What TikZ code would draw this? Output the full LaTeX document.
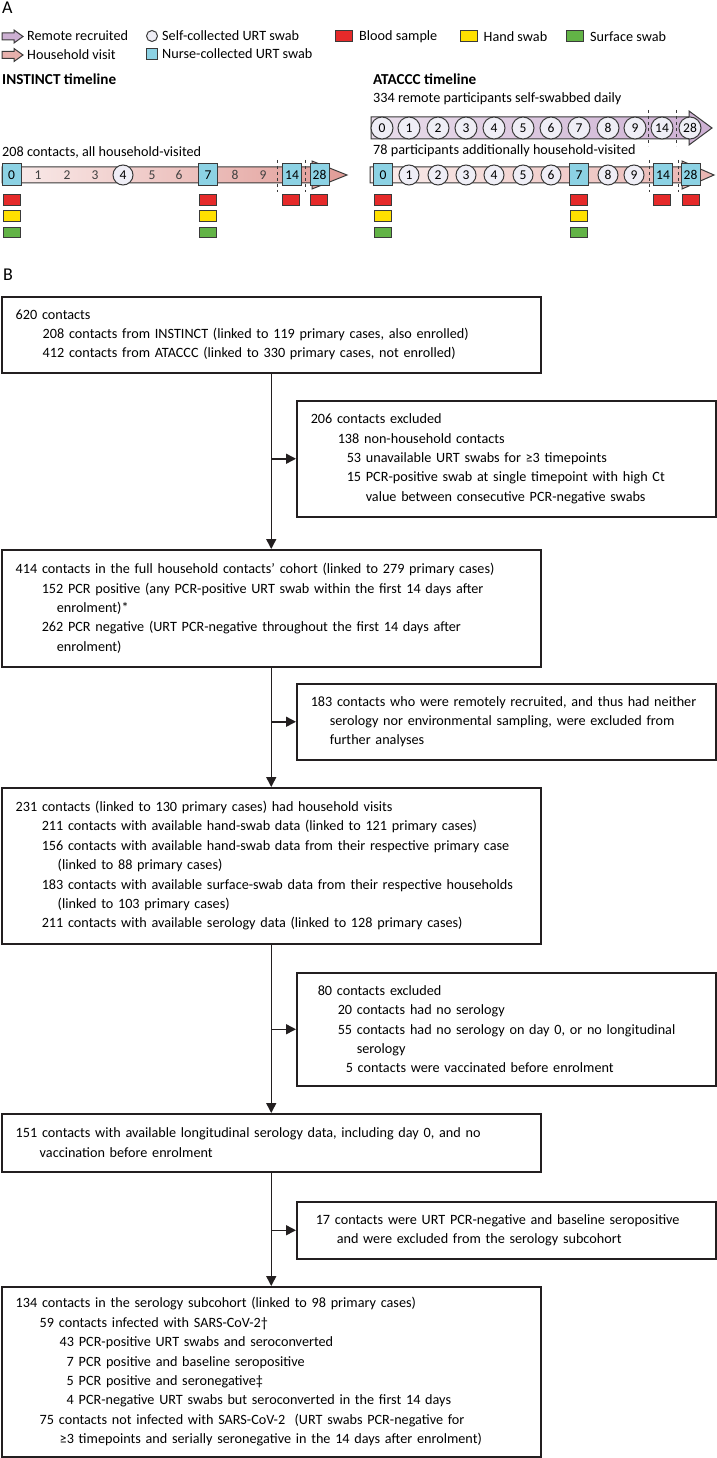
\documentclass[tikz,border=0pt]{standalone}
\usepackage{fontspec}
\setmainfont{Carlito}
\usetikzlibrary{arrows.meta,positioning}

\definecolor{boxline}{HTML}{231F20}
\definecolor{iconline}{HTML}{3A3A3A}
\definecolor{nurseblue}{HTML}{8CD2E4}
\definecolor{selfgrey}{HTML}{EFEEF6}
\definecolor{bloodred}{HTML}{E52A2A}
\definecolor{handyellow}{HTML}{FFE000}
\definecolor{surfgreen}{HTML}{62B346}
\definecolor{remotelo}{HTML}{E9DDEB}
\definecolor{remotehi}{HTML}{CDB0D3}
\definecolor{visitlo}{HTML}{FAEDEC}
\definecolor{visithi}{HTML}{E19C97}

\begin{document}
\begin{tikzpicture}[x=1pt,y=-1pt]

% Definitions
\tikzstyle{txt} = [font=\fontsize{14.2}{19.4}\selectfont]
\tikzstyle{num} = [font=\fontsize{13.5}{16}\selectfont]
\tikzstyle{lgd} = [txt, anchor=west, inner sep=0pt]
\tikzstyle{title} = [lgd, font=\fontsize{15.2}{19.4}\selectfont\bfseries]
\tikzstyle{panel} = [lgd, font=\fontsize{18}{20}\selectfont]
\tikzstyle{box} = [rectangle, txt, draw=boxline, line width=1.5pt, align=left, anchor=north west, inner xsep=0pt, inner ysep=0pt]
\tikzstyle{mainbox} = [box, text width=539pt]
\tikzstyle{exclbox} = [box, text width=419pt]
\tikzstyle{nurse} = [rectangle, num, draw=iconline, fill=nurseblue, line width=1pt, minimum width=19pt, minimum height=22pt, inner sep=0pt]
\tikzstyle{self} = [circle, num, draw=iconline, fill=selfgrey, line width=1pt, minimum size=20pt, inner sep=0pt]
\tikzstyle{day} = [num, inner sep=0pt, text=black!75]
\tikzstyle{sample} = [rectangle, draw=iconline, line width=1pt, minimum width=17pt, minimum height=10.5pt, inner sep=0pt]
\tikzstyle{dayline} = [dashed, line width=0.8pt, iconline]
\tikzstyle{tl} = [draw=iconline, line width=1pt]
\tikzstyle{arrow} = [line width=1.5pt, boxline, ->, >={Triangle[length=10pt,width=10pt]}]

\useasboundingbox (0,0) rectangle (716,1458);

% Panel A: legend
\node (A) [panel] at (2,8) {A};
\path[tl, fill=remotehi] (2,33) -- (14,33) -- (14,30) -- (23,36.5) -- (14,43) -- (14,40) -- (2,40) -- cycle;
\node (remote) [lgd] at (27,36) {Remote recruited};
\path[tl, fill=visithi!80] (2,51.5) -- (14,51.5) -- (14,48.5) -- (23,55) -- (14,61.5) -- (14,58.5) -- (2,58.5) -- cycle;
\node (visit) [lgd] at (27,55) {Household visit};
\node (selficon) [self, minimum size=11pt] at (152,36) {};
\node (selflgd) [lgd, right=4pt of selficon] {Self-collected URT swab};
\node (nurseicon) [nurse, minimum width=11pt, minimum height=11pt] at (152,54) {};
\node (nurselgd) [lgd, right=4pt of nurseicon] {Nurse-collected URT swab};
\node (bloodicon) [sample, fill=bloodred, minimum height=11pt] at (344,36.5) {};
\node (bloodlgd) [lgd, right=6pt of bloodicon] {Blood sample};
\node (handicon) [sample, fill=handyellow, minimum height=11pt] at (468.5,36.5) {};
\node (handlgd) [lgd, right=6pt of handicon] {Hand swab};
\node (surficon) [sample, fill=surfgreen, minimum height=11pt] at (575,36.5) {};
\node (surflgd) [lgd, right=6pt of surficon] {Surface swab};

% INSTINCT timeline
\node (instinct) [title] at (2,79) {INSTINCT timeline};
\node (instincttxt) [lgd] at (2,152) {208 contacts, all household-visited};
\path[tl, left color=visitlo, right color=visithi] (2,167) -- (312,167) -- (312,161) -- (347,175) -- (312,189) -- (312,183) -- (2,183) -- cycle;
\draw[dayline] (277,160) -- (277,192);
\draw[dayline] (305,160) -- (305,192);
\foreach \d/\x in {1/38,2/67,3/95,5/152,6/179,8/235,9/263}
  \node (i\d) [day] at (\x,175) {\d};
\node (i4) [self] at (123,175) {4};
\foreach \d/\x in {0/11.5,7/208,14/292,28/319.5}
  \node (i\d) [nurse] at (\x,175) {\d};
\foreach \d/\x in {0/11.5,7/208} {
  \node (ih\d) [sample, fill=handyellow] at (\x,216) {};
  \node (is\d) [sample, fill=surfgreen] at (\x,232.5) {};
}
\foreach \d/\x in {0/11.5,7/208,14/290.5,28/319}
  \node (ib\d) [sample, fill=bloodred] at (\x,200) {};

% ATACCC timeline
\node (ataccc) [title] at (373,79) {ATACCC timeline};
\node (remotetxt) [lgd] at (373,99) {334 remote participants self-swabbed daily};
\path[tl, left color=remotelo, right color=remotehi] (371,117) -- (689,117) -- (689,111) -- (712,128) -- (689,145) -- (689,139) -- (371,139) -- cycle;
\draw[dayline] (648,110) -- (648,146);
\draw[dayline] (676,110) -- (676,146);
\foreach \d/\x in {0/382,1/409,2/438,3/466,4/494,5/523,6/551,7/579,8/608,9/635,14/662,28/690}
  \node (r\d) [self, minimum size=22pt] at (\x,128) {\d};

\node (visittxt) [lgd] at (373,151) {78 participants additionally household-visited};
\path[tl, left color=visitlo, right color=visithi!75] (370,167) -- (682,167) -- (682,161) -- (714,175) -- (682,189) -- (682,183) -- (370,183) -- cycle;
\draw[dayline] (649,160) -- (649,192);
\draw[dayline] (678,160) -- (678,192);
\foreach \d/\x in {1/409,2/438,3/466,4/494,5/523,6/551,8/608,9/634}
  \node (a\d) [self] at (\x,175) {\d};
\foreach \d/\x in {0/383,7/579,14/663,28/690.5}
  \node (a\d) [nurse] at (\x,175) {\d};
\foreach \d/\x in {0/383,7/579} {
  \node (ah\d) [sample, fill=handyellow] at (\x,216) {};
  \node (as\d) [sample, fill=surfgreen] at (\x,232.5) {};
}
\foreach \d/\x in {0/383,7/579,14/662,28/690.5}
  \node (ab\d) [sample, fill=bloodred] at (\x,200) {};

% Panel B: flow chart
\node (B) [panel] at (3,275) {B};

\node (enrol) [mainbox, minimum height=76pt] at (1,296) {%
\hspace*{14pt}620 contacts\\
\hspace*{41pt}208 contacts from INSTINCT (linked to 119 primary cases, also enrolled)\\
\hspace*{41pt}412 contacts from ATACCC (linked to 330 primary cases, not enrolled)};

\node (excl1) [exclbox, minimum height=116pt] at (296,400) {%
\hspace*{14pt}206 contacts excluded\\
\hspace*{41pt}138 non-household contacts\\
\hspace*{50pt}53 unavailable URT swabs for ≥3 timepoints\\
\hspace*{50pt}15 PCR-positive swab at single timepoint with high Ct\\
\hspace*{69pt}value between consecutive PCR-negative swabs};

\node (cohort) [mainbox, minimum height=117pt] at (1,549) {%
\hspace*{14pt}414 contacts in the full household contacts’ cohort (linked to 279 primary cases)\\
\hspace*{40pt}152 PCR positive (any PCR-positive URT swab within the first 14 days after\\
\hspace*{55pt}enrolment)*\\
\hspace*{40pt}262 PCR negative (URT PCR-negative throughout the first 14 days after\\
\hspace*{55pt}enrolment)};

\node (excl2) [exclbox, minimum height=76pt] at (296,683) {%
\hspace*{14pt}183 contacts who were remotely recruited, and thus had neither\\
\hspace*{33pt}serology nor environmental sampling, were excluded from\\
\hspace*{33pt}further analyses};

\node (visits) [mainbox, minimum height=156pt] at (1,787) {%
\hspace*{14pt}231 contacts (linked to 130 primary cases) had household visits\\
\hspace*{40pt}211 contacts with available hand-swab data (linked to 121 primary cases)\\
\hspace*{40pt}156 contacts with available hand-swab data from their respective primary case\\
\hspace*{56pt}(linked to 88 primary cases)\\
\hspace*{40pt}183 contacts with available surface-swab data from their respective households\\
\hspace*{56pt}(linked to 103 primary cases)\\
\hspace*{40pt}211 contacts with available serology data (linked to 128 primary cases)};

\node (excl3) [exclbox, minimum height=113pt] at (296,972) {%
\hspace*{21pt}80 contacts excluded\\
\hspace*{41pt}20 contacts had no serology\\
\hspace*{41pt}55 contacts had no serology on day 0, or no longitudinal\\
\hspace*{60pt}serology\\
\hspace*{49pt}5 contacts were vaccinated before enrolment};

\node (longit) [mainbox, minimum height=58pt] at (1,1113) {%
\hspace*{14pt}151 contacts with available longitudinal serology data, including day 0, and no\\
\hspace*{38pt}vaccination before enrolment};

\node (excl4) [exclbox, minimum height=57pt] at (296,1201) {%
\hspace*{19pt}17 contacts were URT PCR-negative and baseline seropositive\\
\hspace*{40pt}and were excluded from the serology subcohort};

\node (subcohort) [mainbox, minimum height=170pt] at (1,1286) {%
\hspace*{14pt}134 contacts in the serology subcohort (linked to 98 primary cases)\\
\hspace*{38pt}59 contacts infected with SARS-CoV-2†\\
\hspace*{58pt}43 PCR-positive URT swabs and seroconverted\\
\hspace*{65pt}7 PCR positive and baseline seropositive\\
\hspace*{65pt}5 PCR positive and seronegative‡\\
\hspace*{65pt}4 PCR-negative URT swabs but seroconverted in the first 14 days\\
\hspace*{38pt}75 contacts not infected with SARS-CoV-2\ \ (URT swabs PCR-negative for\\
\hspace*{58pt}≥3 timepoints and serially seronegative in the 14 days after enrolment)};

\draw [arrow] (enrol.south) -- (cohort.north);
\draw [arrow] (enrol.south |- excl1.west) -- (excl1.west);
\draw [arrow] (cohort.south) -- (visits.north);
\draw [arrow] (cohort.south |- excl2.west) -- (excl2.west);
\draw [arrow] (visits.south) -- (longit.north);
\draw [arrow] (visits.south |- excl3.west) -- (excl3.west);
\draw [arrow] (longit.south) -- (subcohort.north);
\draw [arrow] (longit.south |- excl4.west) -- (excl4.west);

\end{tikzpicture}
\end{document}
